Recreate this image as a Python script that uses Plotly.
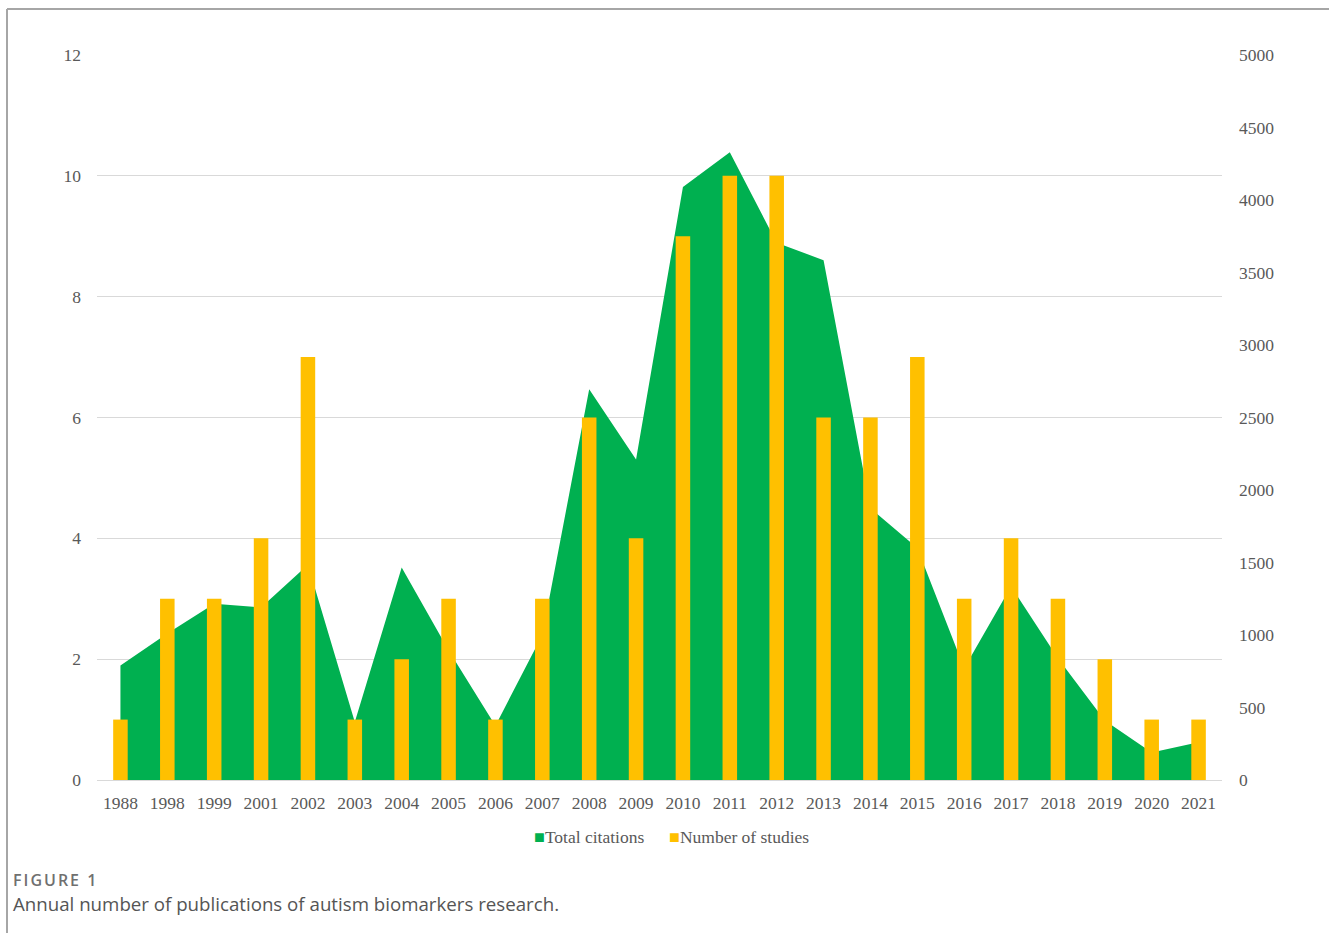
import plotly.graph_objects as go

# Publication years (category axis)
years = ["1988", "1998", "1999", "2001", "2002", "2003", "2004", "2005", "2006",
         "2007", "2008", "2009", "2010", "2011", "2012", "2013", "2014", "2015",
         "2016", "2017", "2018", "2019", "2020", "2021"]

# Number of studies per year (left axis, bars)
studies = [1, 3, 3, 4, 7, 1, 2, 3, 1, 3, 6, 4, 9, 10, 10, 6, 6, 7, 3, 4, 3, 2, 1, 1]

# Total citations per year (right axis, area)
citations = [790, 1010, 1215, 1190, 1485, 400, 1465, 895, 375, 1000, 2695, 2210,
             4090, 4330, 3705, 3585, 1875, 1600, 770, 1335, 840, 410, 190, 260]

left_ticks = [0, 2, 4, 6, 8, 10, 12]
right_ticks = [0, 500, 1000, 1500, 2000, 2500, 3000, 3500, 4000, 4500, 5000]

GREEN = "#00B050"
GOLD = "#FFC000"
TICK_COLOR = "#595959"
GRID_COLOR = "#D9D9D9"
SERIF = "Liberation Serif, Times New Roman, serif"
SANS = "Open Sans, Noto Sans, sans-serif"
FS = 17.5

fig = go.Figure()

# Area of total citations on the base axis (drawn on the right side)
fig.add_trace(go.Scatter(
    x=years, y=citations, name="Total citations",
    mode="none", fill="tozeroy", fillcolor=GREEN,
    yaxis="y", hoverinfo="x+y", showlegend=False,
))

# Bars of study counts on the overlaying axis (left side) so they sit above the area
fig.add_trace(go.Bar(
    x=years, y=studies, name="Number of studies",
    marker=dict(color=GOLD, line=dict(width=0)),
    yaxis="y2", showlegend=False,
))

W, H = 1329, 933
L, R, T, B = 97, 1222, 55, 780


def px_x(x):
    return (x - L) / (R - L)


def px_y(y):
    return (B - y) / (B - T)


def legend_entry(x, color, label):
    return dict(
        text=f"<span style='color:{color};font-size:18px'>■</span>{label}",
        xref="paper", yref="paper", x=px_x(x), xanchor="left",
        y=px_y(837), yanchor="middle", showarrow=False,
        font=dict(family=SERIF, size=FS, color=TICK_COLOR),
    )


fig.update_layout(
    width=W, height=H,
    margin=dict(l=L, r=W - R, t=T, b=H - B, pad=0),
    paper_bgcolor="white", plot_bgcolor="white",
    bargap=0.69,
    showlegend=False,
    xaxis=dict(
        type="category", categoryorder="array", categoryarray=years,
        showgrid=False, showline=True, linecolor=GRID_COLOR, linewidth=1,
        ticks="", tickfont=dict(family=SERIF, size=FS, color=TICK_COLOR),
        ticklabelstandoff=7, zeroline=False, fixedrange=True,
    ),
    yaxis=dict(
        side="right", range=[0, 5000], tickvals=right_ticks,
        showgrid=False, zeroline=False, showline=False, ticks="",
        tickfont=dict(family=SERIF, size=FS, color=TICK_COLOR),
        ticklabelstandoff=16,
    ),
    yaxis2=dict(
        overlaying="y", side="left", range=[0, 12], tickvals=left_ticks,
        showgrid=True, gridcolor=GRID_COLOR, gridwidth=1,
        zeroline=False, showline=False, ticks="",
        tickfont=dict(family=SERIF, size=FS, color=TICK_COLOR),
        ticklabelstandoff=15,
    ),
    shapes=[
        # frame around the figure panel (top and left edges)
        dict(type="line", xref="paper", yref="paper",
             x0=px_x(7), x1=px_x(W + 5), y0=px_y(9), y1=px_y(9),
             line=dict(color="#A6A6A6", width=2)),
        dict(type="line", xref="paper", yref="paper",
             x0=px_x(7), x1=px_x(7), y0=px_y(9), y1=px_y(H + 5),
             line=dict(color="#A6A6A6", width=2)),
    ],
    annotations=[
        legend_entry(532, GREEN, "Total citations"),
        legend_entry(667, GOLD, "Number of studies"),
        dict(text="<span style='letter-spacing:2px'>FIGURE 1</span>",
             xref="paper", yref="paper",
             x=px_x(11), xanchor="left",
             y=px_y(880), yanchor="middle", showarrow=False,
             font=dict(family=SANS, size=16, color="#707070", weight=600)),
        dict(text="Annual number of publications of autism biomarkers research.",
             xref="paper", yref="paper",
             x=px_x(11), xanchor="left",
             y=px_y(903), yanchor="middle", showarrow=False,
             font=dict(family=SANS, size=18.7, color="#555555")),
    ],
)

fig.write_html("out.html")
